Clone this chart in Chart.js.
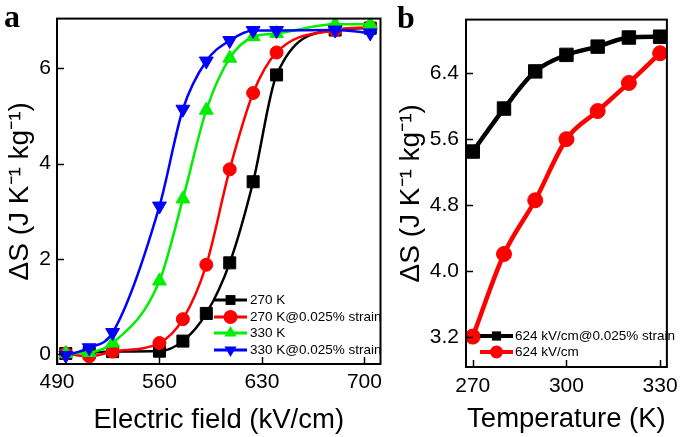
<!DOCTYPE html>
<html><head><meta charset="utf-8">
<script src="https://cdn.jsdelivr.net/npm/chart.js@4.4.0/dist/chart.umd.min.js"></script>
<style>
html,body{margin:0;padding:0;background:#fff;width:685px;height:437px;overflow:hidden}
#wa{position:absolute;left:0;top:0;width:390px;height:437px}
#wb{position:absolute;left:390px;top:0;width:295px;height:437px}
.lab{position:absolute;font-family:"Liberation Serif","DejaVu Serif",serif;font-weight:bold;font-size:32px;line-height:32px;color:#000}
</style></head><body>
<div id="wa"><canvas id="ca" width="390" height="437"></canvas></div>
<div id="wb"><canvas id="cb" width="295" height="437"></canvas></div>
<div class="lab" style="left:4px;top:0px">a</div>
<div class="lab" style="left:397px;top:1px">b</div>
<script>
// ---- Panel a data ----
const fieldA = [496, 512, 528, 560, 576, 592, 608, 624, 640, 680, 704];
const dS270 = [0.02, 0.04, 0.06, 0.07, 0.28, 0.86, 1.92, 3.62, 5.86, 6.80, 6.84];
const dS270strain = [0.02, -0.04, 0.06, 0.24, 0.74, 1.88, 3.88, 5.48, 6.33, 6.80, 6.86];
const dS330 = [0.02, 0.04, 0.24, 1.54, 3.26, 5.12, 6.21, 6.66, 6.73, 6.92, 6.92];
const dS330strain = [-0.02, 0.14, 0.46, 3.11, 5.14, 6.15, 6.58, 6.79, 6.79, 6.80, 6.74];
const labelsA = ['270 K', '270 K@0.025% strain', '330 K', '330 K@0.025% strain'];
const xTicksA = [490, 560, 630, 700];
const yTicksA = [0, 2, 4, 6];

// ---- Panel b data ----
const tempB = [270, 280, 290, 300, 310, 320, 330];
const dSstrainB = [5.45, 5.97, 6.42, 6.62, 6.72, 6.83, 6.84];
const dSnoStrainB = [3.21, 4.21, 4.86, 5.60, 5.94, 6.28, 6.64];
const labelsB = ['624 kV/cm@0.025% strain', '624 kV/cm'];
const xTicksB = [270, 300, 330];
const yTicksB = [3.2, 4.0, 4.8, 5.6, 6.4];

const FONT = '"Liberation Sans", Arial, sans-serif';
const pts = (xs, ys) => xs.map((x, i) => ({x: x, y: ys[i]}));

function ds(label, xs, ys, color, style, radius, rot, lw, order) {
  return {
    label: label, data: pts(xs, ys), borderColor: color, backgroundColor: color,
    pointBackgroundColor: color, pointBorderColor: color, pointBorderWidth: 1,
    pointStyle: style, pointRadius: radius, pointRotation: rot,
    borderWidth: lw, cubicInterpolationMode: 'monotone', order: order, fill: false
  };
}

const framePlugin = {
  id: 'frame',
  afterDraw(chart, args, opts) {
    const {ctx, chartArea: a, scales} = chart;
    ctx.save();
    ctx.strokeStyle = '#000';
    ctx.lineWidth = 1.5;
    const len = 7;
    scales.x.ticks.forEach(t => {
      const px = Math.round(scales.x.getPixelForValue(t.value)) + 0.5;
      ctx.beginPath(); ctx.moveTo(px, a.bottom); ctx.lineTo(px, a.bottom - len); ctx.stroke();
    });
    scales.y.ticks.forEach(t => {
      const py = Math.round(scales.y.getPixelForValue(t.value)) + 0.5;
      ctx.beginPath(); ctx.moveTo(a.left, py); ctx.lineTo(a.left + len, py); ctx.stroke();
    });
    ctx.lineWidth = 2;
    ctx.strokeRect(a.left, a.top, a.right - a.left, a.bottom - a.top);
    // legend
    const L = opts.legend;
    chart.data.datasets.forEach((d, i) => {
      const y = L.rows[i];
      ctx.strokeStyle = d.borderColor;
      ctx.fillStyle = d.borderColor;
      ctx.lineWidth = L.lineWidth;
      ctx.beginPath(); ctx.moveTo(L.x0, y); ctx.lineTo(L.x1, y); ctx.stroke();
      Chart.helpers.drawPoint(ctx, {pointStyle: d.pointStyle, rotation: d.pointRotation, radius: L.radius, borderWidth: 0}, (L.x0 + L.x1) / 2, y);
      ctx.fillStyle = '#000';
      ctx.font = L.fontSize + 'px ' + FONT;
      ctx.textBaseline = 'middle';
      ctx.textAlign = 'left';
      ctx.fillText(d.label, L.textX, y + 0.5);
    });
    ctx.restore();
  }
};

function axisX(min, max, ticksArr, height, title, tickPad, titlePad) {
  return {
    type: 'linear', position: 'bottom', min: min, max: max,
    afterBuildTicks: s => { s.ticks = ticksArr.map(v => ({value: v})); },
    afterFit: s => { s.height = height; },
    grid: {display: false, drawTicks: false}, border: {display: false},
    ticks: {font: {family: FONT, size: 21}, color: '#000', padding: tickPad, maxRotation: 0, autoSkip: false},
    title: {display: true, text: title, color: '#000', font: {family: FONT, size: 27.5}, padding: {top: 0, bottom: titlePad}}
  };
}
function axisY(min, max, ticksArr, width, fmt, tickPad, titlePad) {
  return {
    type: 'linear', position: 'left', min: min, max: max,
    afterBuildTicks: s => { s.ticks = ticksArr.map(v => ({value: v})); },
    afterFit: s => { s.width = width; },
    grid: {display: false, drawTicks: false}, border: {display: false},
    ticks: {font: {family: FONT, size: 21}, color: '#000', padding: tickPad, autoSkip: false, callback: fmt},
    title: {display: true, text: 'ΔS (J K⁻¹ kg⁻¹)', color: '#000', font: {family: FONT, size: 28}, padding: {top: titlePad, bottom: 0}}
  };
}

new Chart(document.getElementById('ca'), {
  type: 'line',
  data: {datasets: [
    ds(labelsA[0], fieldA, dS270, '#000000', 'rect', 8.5, 0, 2.5, 3),
    ds(labelsA[1], fieldA, dS270strain, '#ff0000', 'circle', 6.5, 0, 2.5, 2),
    ds(labelsA[2], fieldA, dS330, '#00ee00', 'triangle', 8, 0, 2.5, 1),
    ds(labelsA[3], fieldA, dS330strain, '#0000ff', 'triangle', 8, 180, 2.5, 0)
  ]},
  options: {
    responsive: false, animation: false,
    layout: {padding: {left: 0, top: 1, right: 4, bottom: 0}},
    plugins: {legend: {display: false}, tooltip: {enabled: false},
      frame: {legend: {rows: [300, 317, 333, 350], x0: 214, x1: 247, textX: 250, lineWidth: 3, radius: 7, fontSize: 13.5}}},
    scales: {
      x: axisX(490, 711, xTicksA, 73, 'Electric field (kV/cm)', 6, 0),
      y: axisY(-0.2, 7.04, yTicksA, 57, v => String(v), 6, 3)
    }
  },
  plugins: [framePlugin]
});

new Chart(document.getElementById('cb'), {
  type: 'line',
  data: {datasets: [
    ds(labelsB[0], tempB, dSstrainB, '#000000', 'rect', 9.5, 0, 4.5, 1),
    ds(labelsB[1], tempB, dSnoStrainB, '#ff0000', 'circle', 7.5, 0, 4.5, 0)
  ]},
  options: {
    responsive: false, animation: false,
    layout: {padding: {left: 0, top: 3, right: 11, bottom: 0}},
    plugins: {legend: {display: false}, tooltip: {enabled: false},
      frame: {legend: {rows: [336, 352], x0: 90, x1: 123, textX: 125, lineWidth: 4, radius: 6.5, fontSize: 13.5}}},
    scales: {
      x: axisX(267.83, 332.17, xTicksB, 70, 'Temperature (K)', 7, 1),
      y: axisY(2.842, 7.047, yTicksB, 76, v => v.toFixed(1), 7, 4)
    }
  },
  plugins: [framePlugin]
});
</script>
</body></html>
